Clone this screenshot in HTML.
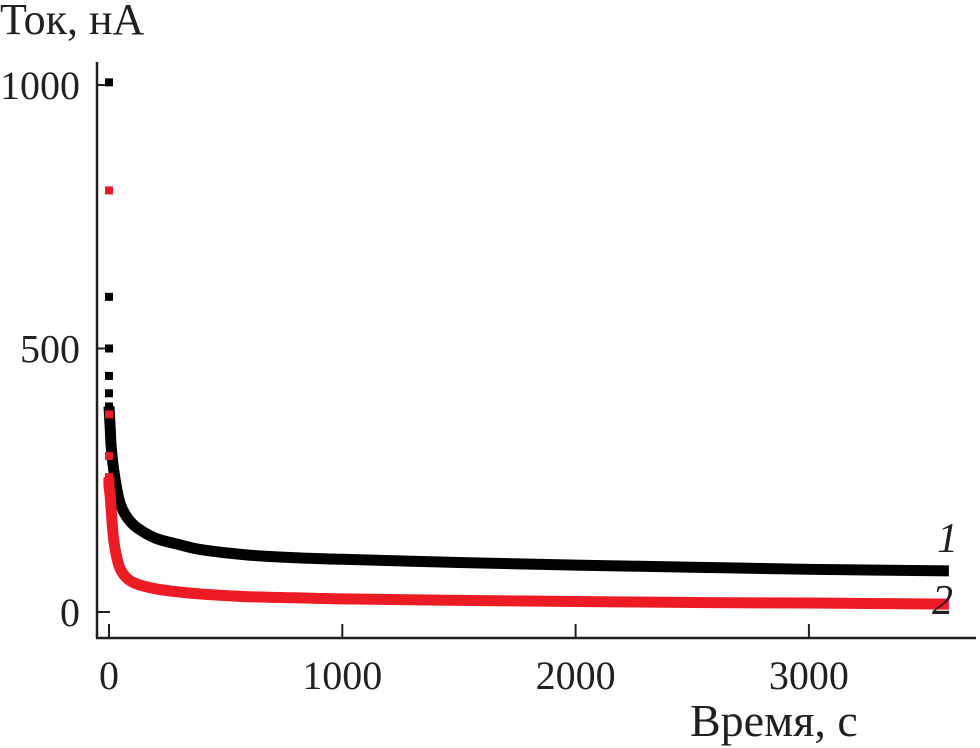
<!DOCTYPE html>
<html><head><meta charset="utf-8"><style>
html,body{margin:0;padding:0;background:#fff;}
svg{display:block;font-family:"Liberation Serif","Noto Serif CJK SC",serif;}
</style></head><body>
<svg id="chart" width="980" height="748" viewBox="0 0 980 748" xmlns="http://www.w3.org/2000/svg">
<text x="0" y="34" font-size="44" fill="#231f20">Ток, нА</text>
<text x="690" y="736" font-size="46" fill="#231f20">Время, с</text>
<line x1="97" y1="62" x2="97" y2="638" stroke="#231f20" stroke-width="2.5"/>
<line x1="96" y1="638" x2="976" y2="638" stroke="#231f20" stroke-width="2.5"/>
<g id="ticks"></g>
<g id="series"></g>
<text x="937" y="552" font-size="42" font-style="italic" fill="#231f20">1</text>
<text x="932" y="614" font-size="42" font-style="italic" fill="#231f20">2</text>
</svg>
<script>
const xTicks = [0, 1000, 2000, 3000];
const yTicks = [0, 500, 1000];
const s1Times = [0, 0, 0, 0, 0, 0, 5, 10, 20, 35, 50, 80, 120, 200, 300, 400, 600, 800, 1000, 1500, 2000, 2500, 3000, 3600];
const s1Values = [1005, 598, 500, 448, 415, 390, 350, 310, 270, 230, 203, 178, 160, 140, 128, 118, 108, 103, 100, 94, 89, 85, 81, 78];
const s2Times = [0, 0, 0, 0, 0, 5, 10, 20, 35, 50, 80, 120, 200, 300, 400, 600, 800, 1000, 1500, 2000, 2500, 3000, 3600];
const s2Values = [800, 375, 296, 256, 240, 220, 190, 137, 100, 80, 63, 53, 44, 38, 34, 29, 27, 25, 22, 20, 18, 17, 15];
const s1Markers = 6, s2Markers = 4;

function xs(t){ return 109 + t * 0.2333; }
function ys(v){ return 612 - v * 0.527; }
const NS = "http://www.w3.org/2000/svg";
const tg = document.getElementById('ticks');
xTicks.forEach(t => {
  const l = document.createElementNS(NS, 'line');
  
  
  l.setAttribute('x1', xs(t)); l.setAttribute('x2', xs(t));
  l.setAttribute('y1', 624); l.setAttribute('y2', 638);
  l.setAttribute('stroke', '#231f20'); l.setAttribute('stroke-width', 2);
  tg.appendChild(l);
  const tx = document.createElementNS(NS, 'text');
  
  
  tx.setAttribute('x', xs(t)); tx.setAttribute('y', 689);
  tx.setAttribute('text-anchor', 'middle'); tx.setAttribute('font-size', 40);
  tx.setAttribute('fill', '#231f20');
  tx.textContent = t;
  tg.appendChild(tx);
});
yTicks.forEach(v => {
  const l = document.createElementNS(NS, 'line');
  
  
  l.setAttribute('x1', 97); l.setAttribute('x2', 110);
  l.setAttribute('y1', ys(v)); l.setAttribute('y2', ys(v));
  l.setAttribute('stroke', '#231f20'); l.setAttribute('stroke-width', 2);
  tg.appendChild(l);
  const tx = document.createElementNS(NS, 'text');
  
  
  tx.setAttribute('x', 80); tx.setAttribute('y', ys(v) + 14);
  tx.setAttribute('text-anchor', 'end'); tx.setAttribute('font-size', 40);
  tx.setAttribute('fill', '#231f20');
  tx.textContent = v;
  tg.appendChild(tx);
});
const sg = document.getElementById('series');
function drawSeries(times, vals, nMarkers, color, name){
  for (let i = 0; i < nMarkers; i++) {
    const r = document.createElementNS(NS, 'rect');
    
    
    r.setAttribute('x', xs(times[i]) - 4); r.setAttribute('y', ys(vals[i]) - 4);
    r.setAttribute('width', 8); r.setAttribute('height', 8);
    r.setAttribute('fill', color);
    sg.appendChild(r);
  }
  const P = [];
  for (let i = nMarkers - 1; i < times.length; i++) P.push([xs(times[i]), ys(vals[i])]);
  let d = 'M' + P[0][0] + ',' + P[0][1];
  for (let i = 0; i < P.length - 1; i++) {
    const p0 = P[Math.max(0, i - 1)], p1 = P[i], p2 = P[i + 1], p3 = P[Math.min(P.length - 1, i + 2)];
    const c1x = p1[0] + (p2[0] - p0[0]) / 6, c1y = p1[1] + (p2[1] - p0[1]) / 6;
    const c2x = p2[0] - (p3[0] - p1[0]) / 6, c2y = p2[1] - (p3[1] - p1[1]) / 6;
    d += ' C' + c1x + ',' + c1y + ' ' + c2x + ',' + c2y + ' ' + p2[0] + ',' + p2[1];
  }
  const p = document.createElementNS(NS, 'path');
  
  
  p.setAttribute('d', d);
  p.setAttribute('fill', 'none'); p.setAttribute('stroke', color);
  p.setAttribute('stroke-width', 11); p.setAttribute('stroke-linejoin', 'round');
  sg.appendChild(p);
}
drawSeries(s1Times, s1Values, s1Markers, '#000000', 'series-1');
drawSeries(s2Times, s2Values, s2Markers, '#ed1c24', 'series-2');
</script>
</body></html>
